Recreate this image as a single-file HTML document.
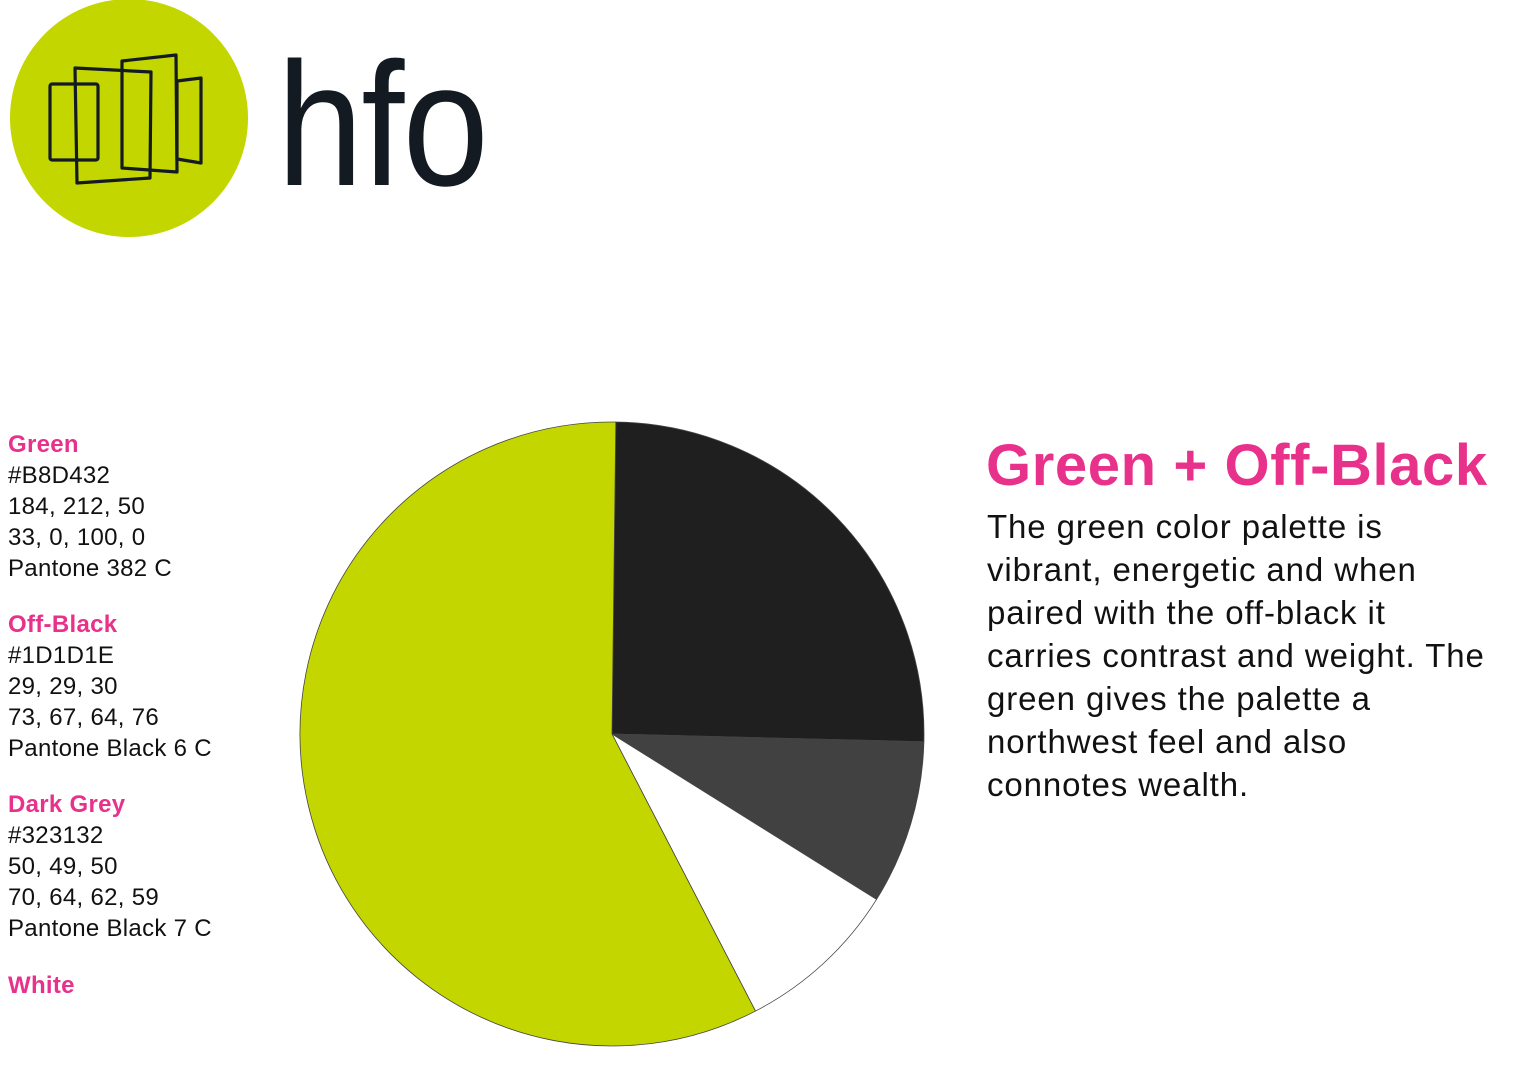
<!DOCTYPE html>
<html><head><meta charset="utf-8"><style>
body{margin:0;width:1538px;height:1080px;background:#fff;position:relative;overflow:hidden;font-family:"Liberation Sans",sans-serif;color:#111}
.lbl{position:absolute;left:8px;font-size:24px;line-height:31px;letter-spacing:0.3px}
.lbl b{color:#e8318a;font-weight:bold}
#title{position:absolute;left:986px;top:432px;font-size:58px;font-weight:bold;color:#e8318a;white-space:nowrap;letter-spacing:0.6px}
#body{position:absolute;left:987px;top:505px;font-size:33px;line-height:43px;width:560px;color:#111;white-space:nowrap;letter-spacing:0.9px}
</style></head><body>
<svg width="560" height="240" style="position:absolute;left:0;top:0">
<circle cx="129" cy="118" r="119" fill="#c3d600"/>
<g fill="none" stroke="#131a22" stroke-width="3.2" stroke-linejoin="round">
<rect x="50" y="84" width="48" height="76" rx="2"/>
<polygon points="75,68 151,72 150,178 77,183"/>
<polygon points="122,61 176,55 177,172 122,168"/>
<polygon points="177,81 201,78 201,163 177,159"/>
</g>
<text x="277" y="185" font-size="176" fill="#131a22" font-family="Liberation Sans, sans-serif" letter-spacing="-2" textLength="210" lengthAdjust="spacingAndGlyphs">hfo</text>
</svg>
<div class="lbl" style="top:429px"><b>Green</b><br>#B8D432<br>184, 212, 50<br>33, 0, 100, 0<br>Pantone 382 C</div>
<div class="lbl" style="top:609px"><b>Off-Black</b><br>#1D1D1E<br>29, 29, 30<br>73, 67, 64, 76<br>Pantone Black 6 C</div>
<div class="lbl" style="top:789px"><b>Dark Grey</b><br>#323132<br>50, 49, 50<br>70, 64, 62, 59<br>Pantone Black 7 C</div>
<div class="lbl" style="top:970px"><b>White</b></div>
<svg id="pie" width="1538" height="1080" style="position:absolute;left:0;top:0"></svg>
<div id="title">Green + Off-Black</div>
<div id="body">The green color palette is<br>vibrant, energetic and when<br>paired with the off-black it<br>carries contrast and weight. The<br>green gives the palette a<br>northwest feel and also<br>connotes wealth.</div>
<script>
const categories=["Off-Black","Dark Grey","White","Green"];
const values=[25.2,8.5,8.5,57.8];
const colors=["#1f1f20","#414141","#ffffff","#c3d600"];
const cx=612,cy=734,r=312,startDeg=0.7;
const svg=document.getElementById('pie');
const total=values.reduce((a,b)=>a+b,0);
function pt(deg){const a=(deg-90)*Math.PI/180;return [cx+r*Math.cos(a),cy+r*Math.sin(a)];}
let acc=startDeg;
values.forEach((v,i)=>{
  const d0=acc,d1=acc+v/total*360;acc=d1;
  const p0=pt(d0),p1=pt(d1);
  const large=(d1-d0)>180?1:0;
  const p=document.createElementNS('http://www.w3.org/2000/svg','path');
  p.setAttribute('d',`M${cx},${cy}L${p0[0]},${p0[1]}A${r},${r} 0 ${large} 1 ${p1[0]},${p1[1]}Z`);
  p.setAttribute('fill',colors[i]);
  p.setAttribute('stroke','#444');
  p.setAttribute('stroke-width','0.8');
  
  
  svg.appendChild(p);
});
</script>
</body></html>
